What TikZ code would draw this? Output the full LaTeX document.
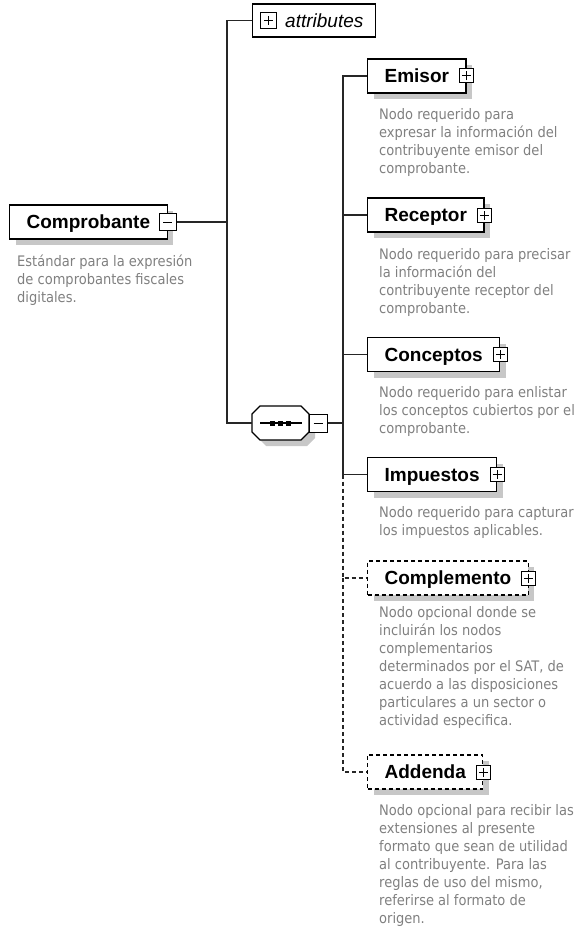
\documentclass[tikz,border=0pt]{standalone}
\usepackage{fontspec}
\setmainfont{Liberation Sans}
\newfontfamily\descfont{DejaVu Sans Condensed}
\usetikzlibrary{shadows}

\begin{document}
\begin{tikzpicture}[x=1pt,y=-1pt,
    element/.style={draw, line width=1.2pt, fill=white, font=\fontsize{19}{22}\selectfont\bfseries,
        minimum height=34pt, inner xsep=17pt, text height=13.6pt, text depth=0pt, anchor=west,
        drop shadow={shadow xshift=6pt, shadow yshift=-6pt, fill=black!22, opacity=1}},
    optional/.style={element, dash pattern=on 4pt off 3pt},
    desc/.style={font=\descfont\fontsize{14.5}{18}\selectfont, text=black!50, align=left,
        anchor=north west, inner sep=0pt},
    conn/.style={line width=1.2pt, black!85},
    optconn/.style={conn, dash pattern=on 4pt off 3pt},
    togglebox/.style={draw, line width=1pt, fill=white, minimum size=14pt, inner sep=0pt},
    plusbox/.style={togglebox, path picture={
        \draw[line width=1pt] (path picture bounding box.center) +(-4.5pt,0) -- +(4.5pt,0)
              (path picture bounding box.center) +(0,-4.5pt) -- +(0,4.5pt);}},
    minusbox/.style={togglebox, path picture={
        \draw[line width=1pt] (path picture bounding box.center) +(-4.5pt,0) -- +(4.5pt,0);}}]
    \useasboundingbox (0,0) rectangle (579,928);

    % root element
    \node[element] (comprobante) at (9,222) {Comprobante};
    \node[minusbox, minimum size=17pt] (comprobantetoggle) at (comprobante.east) {};
    \node[desc] (comprobantedesc) at (17,255) {Estándar para la expresión\\de comprobantes fiscales\\digitales.};

    % attributes
    \node[draw, line width=1.2pt, fill=white, minimum width=123pt, minimum height=33pt, anchor=west] (attributes) at (252,20.5) {};
    \node[plusbox, minimum size=16pt] (attributestoggle) at (268.5,20.5) {};
    \node[font=\fontsize{19}{22}\selectfont\itshape, anchor=west, inner sep=0pt] (attributeslabel) at (285,21) {attributes};

    % sequence
    \begin{scope}[shift={(6,6)}]
        \fill[black!22] (252,414) -- (260,406) -- (301,406) -- (309,414) -- (309,432) -- (301,440) -- (260,440) -- (252,432) -- cycle;
    \end{scope}
    \filldraw[fill=white, line width=1.2pt] (252,414) -- (260,406) -- (301,406) -- (309,414) -- (309,432) -- (301,440) -- (260,440) -- (252,432) -- cycle;
    \draw[line width=1.2pt] (260,423) -- (302,423);
    \foreach \x in {272,280,288}
        \fill (\x,423) +(-2.5pt,-2.5pt) rectangle +(2.5pt,2.5pt);
    \coordinate (seqw) at (252,423);
    \node[minusbox, minimum size=18pt] (seqtoggle) at (318,423) {};

    % child elements
    \node[element] (emisor) at (367,76) {Emisor};
    \node[plusbox] (emisortoggle) at (emisor.east) {};
    \node[desc] (emisordesc) at (379,108) {Nodo requerido para\\expresar la información del\\contribuyente emisor del\\comprobante.};

    \node[element] (receptor) at (367,215) {Receptor};
    \node[plusbox] (receptortoggle) at (receptor.east) {};
    \node[desc] (receptordesc) at (379,248) {Nodo requerido para precisar\\la información del\\contribuyente receptor del\\comprobante.};

    \node[element] (conceptos) at (367,354.5) {Conceptos};
    \node[plusbox] (conceptostoggle) at (conceptos.east) {};
    \node[desc] (conceptosdesc) at (379,386) {Nodo requerido para enlistar\\los conceptos cubiertos por el\\comprobante.};

    \node[element] (impuestos) at (367,474.5) {Impuestos};
    \node[plusbox] (impuestostoggle) at (impuestos.east) {};
    \node[desc] (impuestosdesc) at (379,506) {Nodo requerido para capturar\\los impuestos aplicables.};

    \node[optional] (complemento) at (367,578) {Complemento};
    \node[plusbox] (complementotoggle) at (complemento.east) {};
    \node[desc] (complementodesc) at (379,606) {Nodo opcional donde se\\incluirán los nodos\\complementarios\\determinados por el SAT, de\\acuerdo a las disposiciones\\particulares a un sector o\\actividad especifica.};

    \node[optional] (addenda) at (367,772) {Addenda};
    \node[plusbox] (addendatoggle) at (addenda.east) {};
    \node[desc] (addendadesc) at (379,804) {Nodo opcional para recibir las\\extensiones al presente\\formato que sean de utilidad\\al contribuyente. Para las\\reglas de uso del mismo,\\referirse al formato de\\origen.};

    % connectors
    \coordinate (trunk) at (227,222);
    \coordinate (branch) at (343,423);
    \draw[conn] (comprobantetoggle.east) -- (trunk);
    \draw[conn] (attributes.west) -| (trunk) |- (seqw);
    \draw[conn] (seqtoggle.east) -- (branch);
    \draw[conn] (emisor.west) -| (branch);
    \draw[conn] (receptor.west) -- (receptor.west -| branch);
    \draw[conn] (conceptos.west) -- (conceptos.west -| branch);
    \draw[conn] (impuestos.west) -| (branch);
    \draw[optconn] (impuestos.west -| branch) |- (complemento.west);
    \draw[optconn] (complemento.west -| branch) |- (addenda.west);
\end{tikzpicture}
\end{document}
